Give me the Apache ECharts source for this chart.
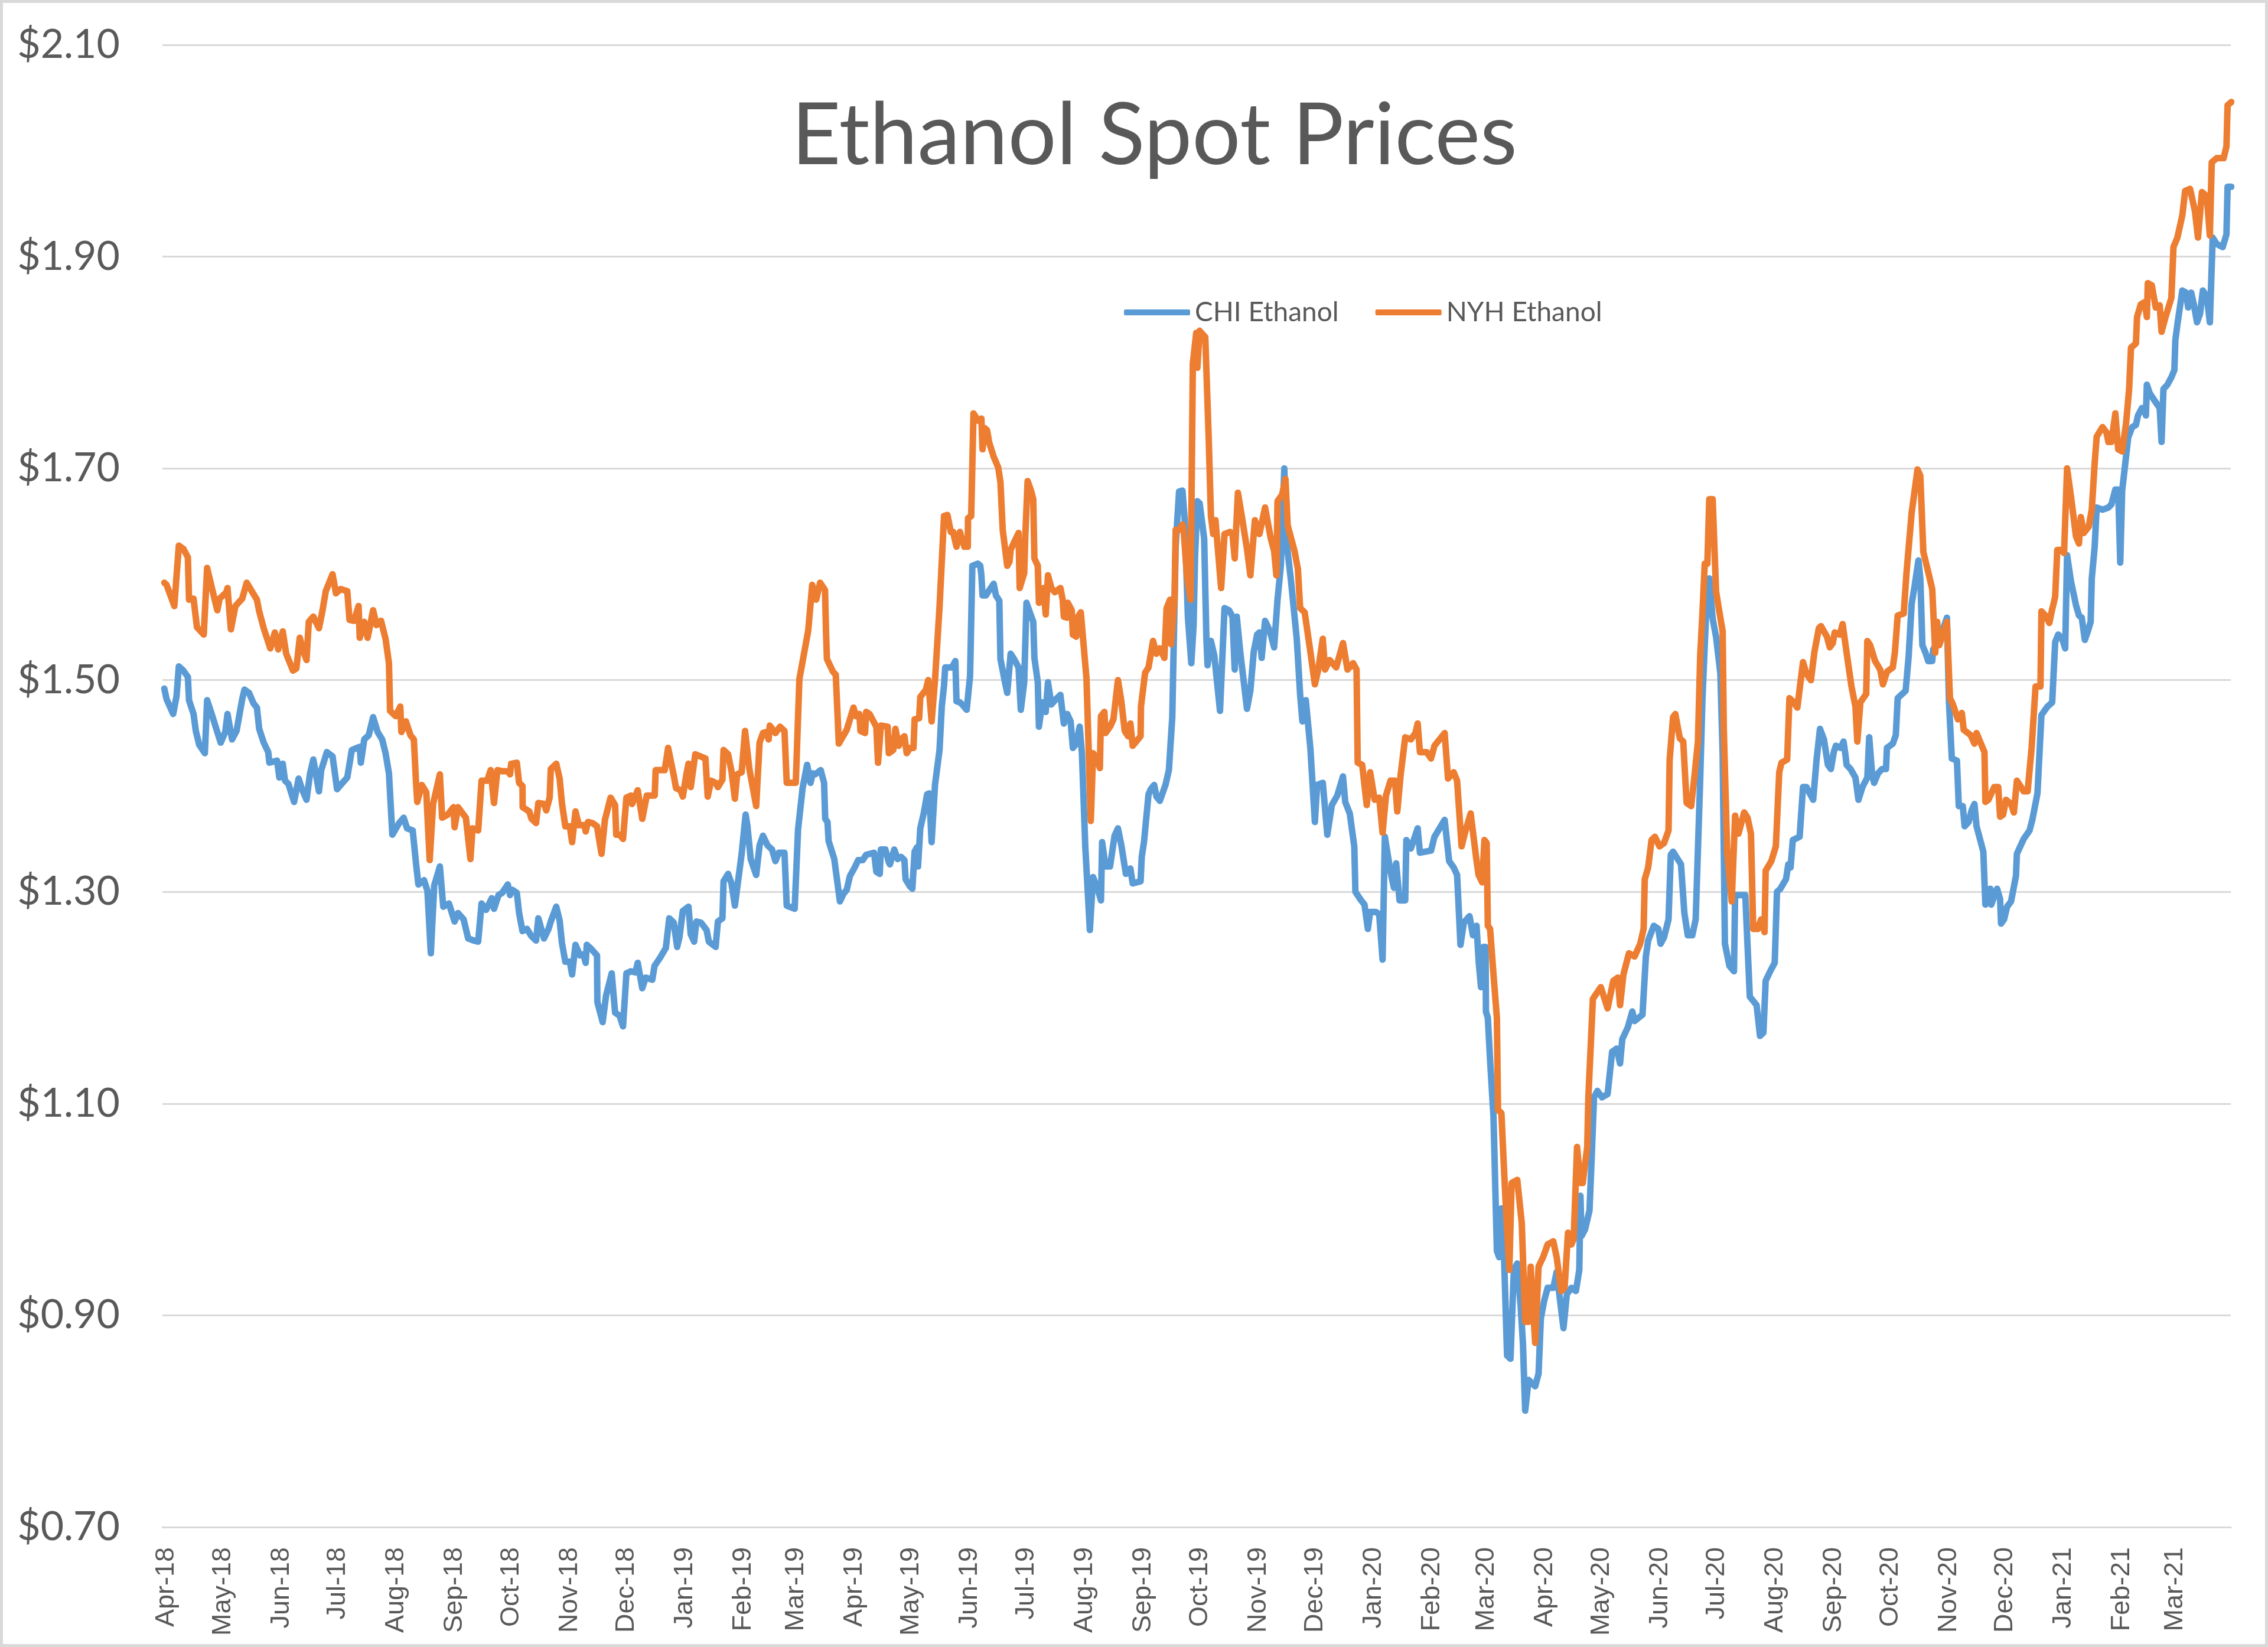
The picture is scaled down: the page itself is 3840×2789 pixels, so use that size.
<!DOCTYPE html>
<html>
<head>
<meta charset="utf-8">
<script src="https://cdn.jsdelivr.net/npm/echarts@6/dist/echarts.min.js"></script>
<style>
html,body{margin:0;padding:0;background:#fff;}
#chart{position:absolute;left:0;top:0;width:3840px;height:2789px;}
#frame{position:absolute;left:0;top:0;width:3840px;height:2789px;box-sizing:border-box;border:5px solid #d9d9d9;pointer-events:none;}
</style>
</head>
<body>
<div id="chart"></div>
<div id="frame"></div>
<script>
// Day offsets are days since 1 Apr 2018.
const monthLabels = ['Apr-18','May-18','Jun-18','Jul-18','Aug-18','Sep-18','Oct-18','Nov-18','Dec-18','Jan-19','Feb-19','Mar-19',
  'Apr-19','May-19','Jun-19','Jul-19','Aug-19','Sep-19','Oct-19','Nov-19','Dec-19','Jan-20','Feb-20','Mar-20',
  'Apr-20','May-20','Jun-20','Jul-20','Aug-20','Sep-20','Oct-20','Nov-20','Dec-20','Jan-21','Feb-21','Mar-21'];
const yTicks = [0.70, 0.90, 1.10, 1.30, 1.50, 1.70, 1.90, 2.10];
const seriesNames = ['CHI Ethanol', 'NYH Ethanol'];

const chiDay = [-1.0,0.2,3.7,5.5,6.7,9.1,11.5,12.1,14.5,15.7,17.5,20.5,21.7,24.1,27.1,28.9,31.3,32.5,34.9,37.3,40.3,41.5,43.9,46.3,48.1,49.3,51.7,54.1,54.7,58.8,60.0,61.8,63.0,64.8,67.8,70.2,72.0,74.4,76.2,78.0,81.0,82.2,85.2,88.2,90.6,93.0,96.0,98.4,102.6,103.2,105.0,107.4,109.7,112.1,114.5,116.3,118.1,119.9,123.5,125.9,127.7,130.7,132.5,133.7,136.7,138.5,140.3,142.1,145.1,146.9,149.9,152.9,154.7,157.7,160.1,163.1,165.4,167.2,169.6,172.6,173.8,176.2,
178.1,181.1,182.3,183.5,185.9,187.1,188.9,191.3,193.7,196.1,197.3,200.3,202.7,203.9,206.8,208.6,209.8,211.6,214.0,215.2,217.0,219.4,221.2,222.4,223.0,225.4,228.4,228.6,231.4,233.2,236.2,238.0,240.4,242.2,244.0,246.4,248.8,250.0,252.4,254.2,257.7,258.9,261.9,264.9,266.7,269.1,270.9,272.1,273.9,276.9,278.1,279.9,281.1,283.5,286.5,287.7,291.3,292.5,294.9,295.5,297.9,299.7,301.5,305.1,307.2,308.1,309.9,312.8,314.6,316.4,318.8,321.2,323.0,324.8,327.8,329.0,333.2,335.0,337.4,339.8,341.6,342.8,344.0,347.0,348.8,349.4,350.6,351.2,354.2,357.2,359.0,360.8,362.5,365.0,
366.9,369.3,371.1,375.3,376.5,378.3,378.9,381.3,383.1,383.7,386.0,387.8,389.6,391.4,392.0,394.4,395.6,396.8,398.0,398.6,399.8,401.6,403.4,404.6,405.8,407.6,410.0,411.2,412.4,413.0,414.8,416.6,418.4,419.0,420.8,422.0,424.4,426.2,427.4,430.4,431.6,432.2,432.8,434.6,436.4,438.7,439.9,441.7,442.3,444.7,445.9,447.7,449.5,451.9,453.1,454.9,456.1,457.9,459.7,460.3,462.1,462.7,464.5,466.3,467.5,469.3,471.7,474.1,475.9,477.7,479.5,480.7,482.5,484.3,485.5,487.3,489.7,491.4,493.8,495.6,496.2,498.0,500.4,502.8,504.6,506.4,508.8,511.2,512.4,516.6,517.2,518.4,520.8,522.0,523.8,525.0,526.8,529.8,531.6,533.4,535.2,535.8,537.0,538.8,540.0,541.7,543.5,544.7,545.5,546.7,547.9,550.3,551.5,552.1,553.9,555.7,558.7,561.1,563.5,565.3,566.5,567.6,569.4,573.0,574.8,576.6,578.4,579.6,580.8,582.6,585.0,587.4,589.2,591.0,592.8,594.0,596.4,599.4,601.2,602.4,604.2,606.6,609.0,610.2,613.2,615.6,618.0,620.9,623.9,625.1,627.5,629.9,630.5,633.5,635.3,637.1,638.3,641.3,643.1,644.9,646.1,649.1,650.9,652.1,653.9,656.9,657.5,659.9,663.5,664.7,670.6,672.4,677.8,680.2,682.6,684.4,686.2,688.0,691.0,692.8,694.7,695.9,697.1,698.3,699.5,699.7,700.7,701.9,703.7,705.5,706.7,707.9,709.1,710.9,712.7,714.5,716.3,718.1,719.3,720.5,722.3,725.8,727.6,728.8,730.6,732.4,735.4,737.2,739.0,740.8,742.6,745.0,747.4,749.2,749.8,750.4,752.2,754.6,755.8,757.0,758.8,761.2,764.2,766.6,769.0,770.8,772.0,774.9,777.3,778.5,782.7,784.5,785.7,788.7,791.1,792.3,794.1,796.5,797.7,798.9,803.1,804.9,806.7,809.1,810.9,813.3,814.5,816.3,818.1,819.9,821.7,824.0,825.2,826.4,828.8,831.2,831.8,834.8,837.2,839.6,843.2,845.0,846.8,848.0,850.4,852.8,854.0,855.8,858.8,860.0,861.2,862.4,866.0,867.8,869.6,873.2,875.0,876.8,878.9,881.0,882.6,884.1,885.2,887.8,889.3,890.4,890.9,893.0,895.6,897.2,899.3,901.9,902.9,904.5,905.5,907.6,909.7,911.8,912.3,915.4,917.0,918.0,922.2,923.8,925.4,926.9,929.0,930.0,931.1,932.7,934.2,936.3,936.8,938.9,941.5,944.1,945.2,946.7,949.4,950.4,952.5,953.5,955.6,957.2,958.7,959.8,963.4,964.5,967.1,967.6,970.7,972.3,972.8,974.4,976.0,978.1,980.7,981.2,984.8,987.9,989.5,992.1,994.2,997.4,999.9,1001.5,1003.1,1005.2,1006.8,1007.8,1009.9,1012.5,1014.1,1015.6,1017.2,1018.8,1020.3,1020.9,1022.4,1023.5,1026.6,1029.7,1031.3,1033.4,1034.9,1036.0,1037.0,1038.1,1040.2,1042.3,1044.3,1045.4,1047.5,1048.5,1049.6,1050.1,1051.6,1054.2,1056.9,1057.9,1058.9,1061.0,1063.1,1064.7,1065.2,1066.3,1068.9,1070.9,1072.0,1073.6,1075.1,1076.7,1078.3,1079.8,1081.9,1083.5,1085.0,1087.1,1090.3,1092.3,1092.9,1094.9];
const chiPrice = [1.492,1.482,1.468,1.485,1.513,1.509,1.503,1.481,1.468,1.452,1.439,1.431,1.481,1.468,1.451,1.441,1.451,1.468,1.444,1.452,1.482,1.491,1.488,1.478,1.474,1.454,1.441,1.432,1.422,1.424,1.408,1.421,1.405,1.402,1.385,1.407,1.397,1.387,1.411,1.425,1.395,1.415,1.432,1.428,1.397,1.402,1.408,1.434,1.437,1.422,1.444,1.448,1.465,1.451,1.444,1.431,1.412,1.354,1.365,1.370,1.360,1.358,1.326,1.307,1.311,1.301,1.242,1.306,1.324,1.286,1.289,1.272,1.280,1.274,1.256,1.254,1.253,1.289,1.283,1.294,1.284,1.297,
1.299,1.307,1.297,1.302,1.299,1.280,1.263,1.265,1.258,1.254,1.275,1.256,1.265,1.272,1.286,1.273,1.252,1.234,1.234,1.222,1.250,1.240,1.241,1.233,1.250,1.246,1.240,1.196,1.177,1.202,1.223,1.186,1.183,1.173,1.223,1.225,1.224,1.233,1.209,1.219,1.217,1.230,1.238,1.247,1.275,1.271,1.248,1.257,1.282,1.286,1.260,1.253,1.272,1.271,1.264,1.253,1.248,1.272,1.275,1.310,1.317,1.308,1.287,1.336,1.373,1.363,1.331,1.316,1.344,1.353,1.344,1.340,1.329,1.337,1.337,1.287,1.284,1.359,1.398,1.420,1.403,1.412,1.411,1.415,1.403,1.369,1.366,1.348,1.331,1.291,1.298,1.302,1.315,1.323,
1.330,1.330,1.335,1.337,1.319,1.317,1.340,1.340,1.328,1.326,1.340,1.331,1.333,1.330,1.312,1.305,1.303,1.338,1.342,1.324,1.360,1.374,1.392,1.393,1.347,1.401,1.434,1.475,1.495,1.512,1.512,1.512,1.518,1.480,1.479,1.477,1.472,1.504,1.608,1.610,1.608,1.599,1.580,1.580,1.585,1.591,1.580,1.575,1.520,1.498,1.488,1.525,1.520,1.512,1.472,1.498,1.573,1.564,1.555,1.521,1.498,1.456,1.479,1.470,1.498,1.477,1.482,1.486,1.459,1.468,1.461,1.436,1.440,1.456,1.431,1.342,1.264,1.314,1.303,1.292,1.347,1.324,1.324,1.353,1.360,1.344,1.317,1.322,1.308,1.310,1.333,1.347,1.392,1.397,1.401,1.390,1.386,1.401,1.415,1.465,1.626,1.644,1.678,1.679,1.651,1.559,1.516,1.552,1.618,1.669,1.667,1.634,1.539,1.514,1.537,1.523,1.471,1.568,1.566,1.560,1.510,1.560,1.527,1.473,1.490,1.527,1.543,1.545,1.521,1.556,1.547,1.531,1.576,1.609,1.700,1.630,1.593,1.539,1.486,1.461,1.481,1.436,1.366,1.401,1.403,1.354,1.382,1.391,1.409,1.385,1.374,1.343,1.300,1.292,1.288,1.265,1.281,1.281,1.279,1.236,1.352,1.319,1.304,1.327,1.292,1.292,1.349,1.341,1.360,1.337,1.339,1.352,1.368,1.329,1.323,1.316,1.250,1.271,1.277,1.259,1.268,1.233,1.210,1.248,1.248,1.187,1.181,1.141,1.088,0.961,0.955,1.001,0.967,0.862,0.859,0.943,0.949,0.909,0.874,0.810,0.839,0.833,0.845,0.897,0.914,0.926,0.926,0.941,0.914,0.888,0.920,0.926,0.923,0.943,1.013,0.975,0.981,0.999,1.051,1.106,1.112,1.106,1.109,1.149,1.152,1.138,1.161,1.172,1.187,1.178,1.184,1.239,1.254,1.268,1.265,1.251,1.257,1.274,1.335,1.338,1.326,1.280,1.259,1.259,1.274,1.407,1.483,1.558,1.596,1.558,1.541,1.506,1.430,1.251,1.230,1.225,1.297,1.297,1.297,1.201,1.193,1.164,1.167,1.216,1.225,1.233,1.300,1.303,1.312,1.326,1.323,1.349,1.352,1.399,1.399,1.387,1.425,1.454,1.444,1.420,1.416,1.432,1.438,1.436,1.442,1.428,1.420,1.416,1.408,1.387,1.399,1.408,1.446,1.410,1.403,1.412,1.416,1.416,1.436,1.440,1.448,1.483,1.490,1.522,1.572,1.588,1.613,1.596,1.533,1.526,1.518,1.518,1.529,1.535,1.545,1.559,1.479,1.426,1.424,1.381,1.381,1.362,1.366,1.377,1.383,1.362,1.338,1.288,1.303,1.288,1.303,1.293,1.270,1.274,1.286,1.291,1.315,1.336,1.350,1.358,1.369,1.393,1.467,1.475,1.479,1.536,1.543,1.539,1.530,1.618,1.593,1.571,1.561,1.559,1.538,1.546,1.555,1.596,1.625,1.663,1.661,1.663,1.666,1.680,1.680,1.611,1.679,1.696,1.729,1.739,1.741,1.750,1.757,1.757,1.750,1.779,1.771,1.764,1.757,1.725,1.775,1.779,1.786,1.793,1.821,1.836,1.868,1.866,1.852,1.866,1.854,1.838,1.846,1.868,1.862,1.838,1.918,1.912,1.909,1.921,1.966,1.966];

const nyhDay = [-1.0,0.2,4.3,6.7,9.1,11.5,12.1,14.5,16.3,19.9,21.7,25.3,27.1,28.3,31.9,32.5,34.3,36.7,40.3,42.7,45.7,48.1,49.3,51.7,55.2,57.6,59.4,61.8,63.6,67.2,69.0,70.8,72.6,74.4,75.6,78.0,81.0,82.8,84.6,88.2,90.0,92.4,96.0,97.2,99.6,102.0,102.6,105.0,106.8,109.7,111.5,113.9,116.3,118.1,118.7,121.7,124.1,124.7,127.1,129.5,131.3,132.5,133.1,135.5,137.9,139.7,141.5,145.1,146.3,149.3,152.3,152.9,154.7,158.9,161.3,162.4,165.4,167.2,170.2,172.0,173.8,175.6,
178.1,181.1,182.3,182.9,185.9,187.1,188.9,189.0,192.5,193.7,196.1,197.3,200.3,201.5,203.3,203.9,206.8,208.6,209.8,211.6,214.0,215.2,217.0,218.8,221.8,222.4,223.6,226.0,228.4,230.8,232.6,235.6,238.0,238.6,240.4,242.2,244.0,246.4,247.0,250.0,252.4,254.8,259.0,259.5,264.3,266.1,269.1,270.3,272.7,273.9,275.7,276.9,278.1,280.5,285.9,287.1,288.9,291.3,292.5,294.9,295.5,297.9,299.7,301.5,302.7,305.1,306.9,309.2,312.8,314.6,316.4,318.2,319.4,320.0,323.0,325.4,327.8,329.0,333.8,335.7,340.4,342.5,344.6,346.7,349.3,349.8,350.3,353.5,355.0,356.6,360.8,364.4,
365.7,367.5,368.1,370.5,371.1,372.9,376.5,377.4,378.9,382.5,383.1,385.5,386.6,388.4,390.2,391.4,392.6,394.4,396.2,396.8,399.2,399.8,402.8,404.0,405.8,407.6,410.0,412.4,414.2,416.0,417.2,419.0,420.8,422.0,423.2,425.0,425.1,426.8,428.0,430.4,432.2,432.8,434.0,435.2,436.4,438.7,441.1,442.3,443.5,445.9,447.1,447.7,449.5,451.9,452.5,454.9,455.5,456.7,458.5,459.7,460.3,462.1,462.7,465.1,466.3,467.5,469.3,471.1,474.1,475.3,475.9,477.7,478.0,480.1,480.7,482.5,483.1,484.9,487.9,489.1,490.2,491.4,493.2,495.0,495.6,497.4,498.0,500.4,502.2,504.6,506.4,508.2,510.0,511.2,512.4,516.6,516.8,519.0,520.8,523.2,525.0,526.8,529.2,530.4,532.2,532.8,534.6,535.2,537.0,538.8,539.4,541.2,543.1,544.3,546.1,546.7,547.9,550.9,552.7,553.9,555.1,556.3,559.3,561.1,564.1,565.3,566.5,568.2,570.6,573.0,574.8,577.2,579.6,582.6,585.6,587.4,588.6,589.2,591.6,593.4,594.6,598.2,600.0,601.2,603.6,606.6,609.0,610.8,613.2,614.4,616.8,620.3,623.9,626.3,629.3,631.1,631.7,634.1,636.5,638.3,640.7,643.1,644.9,646.7,649.1,651.5,652.7,654.5,656.9,659.9,662.3,663.5,664.7,668.3,670.6,672.4,677.8,679.6,682.6,684.4,686.8,688.6,691.6,694.6,695.8,697.7,698.9,700.1,700.7,701.9,703.7,705.5,706.1,707.9,709.1,710.3,712.1,713.3,716.3,718.7,720.5,722.3,723.4,725.8,727.6,730.0,732.4,735.4,737.2,739.6,741.4,743.2,745.0,746.2,748.0,749.8,751.0,753.4,754.0,756.4,760.6,764.2,767.2,769.6,770.8,772.6,775.5,778.5,781.5,783.3,783.9,785.7,787.5,789.3,791.7,794.1,796.5,797.1,798.9,800.1,802.5,804.3,806.1,808.5,810.3,812.1,813.3,814.5,815.7,817.1,818.1,819.9,821.7,823.5,825.2,825.8,827.6,830.0,831.8,833.6,836.6,838.4,840.2,841.4,843.8,845.6,847.4,848.0,851.0,853.4,855.2,856.4,859.4,860.6,862.4,864.8,866.6,867.8,869.6,872.0,873.8,876.2,877.3,880.5,882.0,883.6,884.6,887.3,888.8,890.9,893.5,895.6,896.6,898.2,901.3,901.9,903.4,906.0,908.7,910.2,912.3,915.4,916.5,918.0,921.2,922.7,925.4,928.5,930.0,931.6,934.2,936.3,937.9,938.9,940.0,942.0,944.1,945.7,947.3,949.9,952.0,953.0,956.7,958.7,959.8,964.0,964.5,966.1,969.2,971.3,972.3,973.9,975.4,978.1,979.6,981.2,984.8,986.9,989.0,991.1,993.7,994.2,996.3,998.4,999.9,1000.5,1001.5,1002.6,1004.7,1006.2,1007.8,1009.9,1012.5,1014.1,1015.1,1016.7,1019.3,1020.9,1022.4,1023.5,1026.6,1028.7,1029.7,1031.3,1033.4,1034.9,1037.0,1039.1,1040.7,1041.7,1044.3,1044.9,1046.9,1049.0,1050.1,1050.6,1052.7,1054.8,1056.9,1057.9,1060.0,1063.1,1064.2,1066.3,1068.9,1070.4,1073.0,1075.6,1077.2,1079.3,1081.9,1083.5,1084.5,1087.1,1090.8,1092.3,1092.9,1094.9];
const nyhPrice = [1.592,1.590,1.570,1.627,1.624,1.616,1.576,1.577,1.550,1.543,1.606,1.579,1.566,1.577,1.583,1.587,1.548,1.570,1.577,1.592,1.583,1.576,1.565,1.549,1.530,1.545,1.529,1.546,1.525,1.509,1.511,1.540,1.528,1.519,1.555,1.560,1.549,1.565,1.584,1.600,1.582,1.586,1.584,1.557,1.556,1.570,1.540,1.555,1.540,1.566,1.552,1.556,1.539,1.516,1.471,1.466,1.475,1.451,1.461,1.448,1.444,1.402,1.385,1.401,1.394,1.330,1.383,1.411,1.370,1.373,1.380,1.361,1.380,1.370,1.331,1.360,1.358,1.405,1.405,1.415,1.384,1.415,
1.414,1.414,1.411,1.421,1.422,1.403,1.400,1.380,1.376,1.369,1.365,1.384,1.383,1.377,1.389,1.416,1.421,1.407,1.384,1.362,1.362,1.347,1.376,1.363,1.363,1.357,1.366,1.365,1.362,1.336,1.368,1.389,1.382,1.354,1.354,1.350,1.389,1.391,1.383,1.396,1.369,1.391,1.391,1.415,1.415,1.436,1.410,1.398,1.396,1.390,1.410,1.421,1.399,1.430,1.426,1.390,1.405,1.403,1.399,1.406,1.434,1.430,1.414,1.388,1.411,1.413,1.452,1.416,1.381,1.441,1.450,1.451,1.444,1.457,1.450,1.456,1.452,1.403,1.403,1.501,1.547,1.590,1.576,1.592,1.585,1.547,1.520,1.508,1.505,1.440,1.453,1.474,
1.466,1.468,1.452,1.450,1.470,1.468,1.456,1.422,1.457,1.456,1.431,1.434,1.454,1.438,1.445,1.447,1.431,1.436,1.436,1.463,1.464,1.484,1.491,1.500,1.461,1.500,1.569,1.655,1.656,1.640,1.640,1.626,1.640,1.633,1.626,1.626,1.653,1.655,1.752,1.745,1.747,1.718,1.738,1.736,1.724,1.711,1.701,1.687,1.642,1.608,1.612,1.623,1.630,1.639,1.587,1.601,1.637,1.688,1.679,1.671,1.615,1.608,1.573,1.587,1.562,1.599,1.587,1.583,1.587,1.576,1.560,1.559,1.573,1.566,1.543,1.541,1.559,1.564,1.502,1.434,1.367,1.431,1.427,1.417,1.466,1.470,1.450,1.456,1.463,1.500,1.480,1.452,1.447,1.459,1.438,1.447,1.475,1.507,1.512,1.537,1.525,1.530,1.521,1.568,1.576,1.534,1.576,1.642,1.642,1.647,1.642,1.598,1.576,1.799,1.828,1.795,1.830,1.824,1.729,1.655,1.638,1.651,1.587,1.638,1.640,1.638,1.615,1.677,1.651,1.624,1.599,1.651,1.638,1.663,1.634,1.622,1.599,1.669,1.675,1.690,1.646,1.622,1.605,1.568,1.564,1.527,1.496,1.510,1.539,1.510,1.519,1.512,1.535,1.510,1.516,1.510,1.422,1.420,1.382,1.413,1.387,1.389,1.356,1.391,1.405,1.405,1.376,1.411,1.446,1.444,1.450,1.459,1.432,1.432,1.426,1.438,1.450,1.407,1.413,1.405,1.343,1.356,1.374,1.331,1.316,1.309,1.349,1.346,1.268,1.265,1.222,1.181,1.094,1.091,1.045,1.001,0.943,1.025,1.028,0.987,0.894,0.894,0.946,0.874,0.946,0.955,0.967,0.970,0.955,0.923,0.926,0.978,0.967,0.972,1.059,1.025,1.025,1.059,1.106,1.199,1.210,1.190,1.216,1.219,1.193,1.222,1.242,1.239,1.251,1.265,1.312,1.323,1.349,1.352,1.343,1.346,1.358,1.425,1.465,1.468,1.445,1.442,1.384,1.381,1.410,1.442,1.523,1.564,1.610,1.610,1.671,1.671,1.584,1.564,1.546,1.454,1.338,1.291,1.372,1.355,1.375,1.370,1.355,1.265,1.265,1.274,1.262,1.320,1.329,1.343,1.413,1.422,1.425,1.483,1.480,1.474,1.500,1.517,1.506,1.500,1.526,1.549,1.551,1.541,1.531,1.535,1.545,1.543,1.553,1.526,1.494,1.475,1.442,1.479,1.487,1.537,1.533,1.518,1.510,1.496,1.508,1.512,1.526,1.561,1.563,1.602,1.658,1.699,1.693,1.621,1.602,1.586,1.526,1.555,1.533,1.543,1.555,1.483,1.477,1.463,1.469,1.453,1.448,1.440,1.450,1.432,1.385,1.387,1.399,1.399,1.371,1.373,1.387,1.383,1.375,1.405,1.395,1.395,1.436,1.494,1.494,1.565,1.561,1.554,1.567,1.571,1.579,1.623,1.623,1.620,1.700,1.673,1.636,1.629,1.654,1.639,1.645,1.661,1.704,1.730,1.739,1.734,1.725,1.725,1.752,1.718,1.716,1.743,1.775,1.814,1.818,1.843,1.855,1.857,1.843,1.875,1.873,1.852,1.854,1.829,1.843,1.861,1.909,1.918,1.939,1.962,1.964,1.943,1.918,1.961,1.957,1.920,1.989,1.993,1.993,2.004,2.043,2.046];

const base = Date.UTC(2018, 3, 1);
const monthStarts = monthLabels.map((s, i) => (Date.UTC(2018, 3 + i, 1) - base) / 86400000);
const pair = (xs, ys) => xs.map((x, i) => [x, ys[i]]);

const chart = echarts.init(document.getElementById('chart'), null, {renderer: 'canvas', width: 3840, height: 2789});
const gray = '#595959';
chart.setOption({
  animation: false,
  backgroundColor: '#ffffff',
  color: ['#5B9BD5', '#ED7D31'],
  title: {
    text: 'Ethanol Spot Prices',
    left: 1340,
    top: 159,
    padding: 0,
    textStyle: {fontFamily: 'Lato', fontSize: 145, fontWeight: 'normal', color: gray}
  },
  legend: {
    data: seriesNames,
    left: 1898,
    top: 501,
    itemWidth: 112,
    itemHeight: 10,
    itemGap: 62,
    icon: 'roundRect',
    textStyle: {fontFamily: 'Lato', fontSize: 46, color: gray, padding: [0, 0, 0, 3]}
  },
  grid: {left: 275, right: 63, top: 76, bottom: 203, containLabel: false},
  xAxis: {
    type: 'value',
    min: -2,
    max: 1094.6,
    splitLine: {show: false},
    axisTick: {show: false},
    axisLine: {show: true, lineStyle: {color: '#d9d9d9', width: 3}},
    axisLabel: {
      customValues: monthStarts,
      rotate: 90,
      margin: 34,
      fontFamily: 'Liberation Sans',
      fontSize: 45,
      color: gray,
      formatter: v => { const i = monthStarts.indexOf(v); return i >= 0 ? monthLabels[i] : ''; }
    }
  },
  yAxis: {
    type: 'value',
    min: yTicks[0],
    max: yTicks[yTicks.length - 1],
    interval: 0.2,
    axisLine: {show: false},
    axisTick: {show: false},
    splitLine: {lineStyle: {color: '#d9d9d9', width: 3}},
    axisLabel: {
      margin: 72,
      fontFamily: 'Lato',
      fontSize: 68,
      color: gray,
      formatter: v => '$' + Number(v).toFixed(2)
    }
  },
  series: [
    {name: seriesNames[0], type: 'line', data: pair(chiDay, chiPrice), showSymbol: false, symbol: 'none',
     lineStyle: {width: 11, cap: 'round', join: 'round'}},
    {name: seriesNames[1], type: 'line', data: pair(nyhDay, nyhPrice), showSymbol: false, symbol: 'none',
     lineStyle: {width: 11, cap: 'round', join: 'round'}}
  ]
});
</script>
</body>
</html>
